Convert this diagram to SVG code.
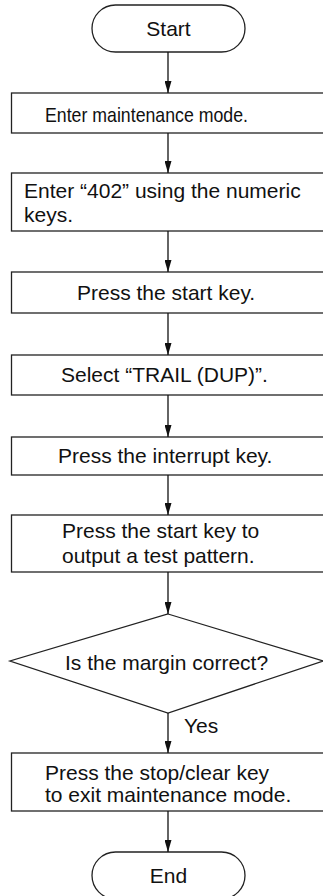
<svg xmlns="http://www.w3.org/2000/svg" width="323" height="896" viewBox="0 0 323 896">
<style>
.box{fill:#fff;stroke:#222;stroke-width:1.3}
.t{font-family:"Liberation Sans",Arial,sans-serif;font-size:21px;fill:#111}
.m{text-anchor:middle}
.c{stroke:#111;stroke-width:1.3;fill:none;marker-end:url(#ah)}
</style>
<defs>
<marker id="ah" markerUnits="userSpaceOnUse" markerWidth="12" markerHeight="7" refX="12" refY="3.5" orient="auto" viewBox="0 0 12 7">
<path d="M0,0 L12,3.5 L0,7 Z" fill="#111"/>
</marker>
</defs>
<rect width="323" height="896" fill="#fff"/>
<g id="start"><rect class="box" x="92" y="5" width="153" height="47" rx="23.5"/><text class="t m" x="168.5" y="36">Start</text></g>
<g id="n1"><rect class="box" x="11.5" y="93" width="330" height="40"/><text class="t" x="45" y="122" textLength="203" lengthAdjust="spacingAndGlyphs">Enter maintenance mode.</text></g>
<g id="n2"><rect class="box" x="11.5" y="173" width="330" height="58"/><text class="t" x="24" y="198">Enter “402” using the numeric</text><text class="t" x="24" y="222">keys.</text></g>
<g id="n3"><rect class="box" x="11.5" y="272" width="330" height="41"/><text class="t" x="77" y="300">Press the start key.</text></g>
<g id="n4"><rect class="box" x="11.5" y="355" width="330" height="40"/><text class="t" x="61" y="382">Select “TRAIL (DUP)”.</text></g>
<g id="n5"><rect class="box" x="11.5" y="437" width="330" height="38"/><text class="t" x="58" y="463">Press the interrupt key.</text></g>
<g id="n6"><rect class="box" x="11.5" y="515" width="330" height="57"/><text class="t" x="62" y="538">Press the start key to</text><text class="t" x="62" y="563">output a test pattern.</text></g>
<g id="d1"><polygon class="box" points="168,614 323,661 168,713 10,661"/><text class="t" x="65" y="670">Is the margin correct?</text></g>
<g id="n7"><rect class="box" x="11.5" y="753" width="330" height="58"/><text class="t" x="45" y="780">Press the stop/clear key</text><text class="t" x="45" y="802">to exit maintenance mode.</text></g>
<g id="end"><rect class="box" x="92" y="852" width="153" height="47" rx="23.5"/><text class="t m" x="168.5" y="883">End</text></g>
<g id="connectors">
<line class="c" x1="168" y1="52" x2="168" y2="93"/>
<line class="c" x1="168" y1="133" x2="168" y2="173"/>
<line class="c" x1="168" y1="231" x2="168" y2="272"/>
<line class="c" x1="168" y1="313" x2="168" y2="355"/>
<line class="c" x1="168" y1="395" x2="168" y2="437"/>
<line class="c" x1="168" y1="475" x2="168" y2="515"/>
<line class="c" x1="168" y1="572" x2="168" y2="614"/>
<line class="c" x1="168" y1="713" x2="168" y2="753"/>
<line class="c" x1="168" y1="811" x2="168" y2="852"/>
<text class="t" x="184" y="733">Yes</text>
</g>
</svg>
